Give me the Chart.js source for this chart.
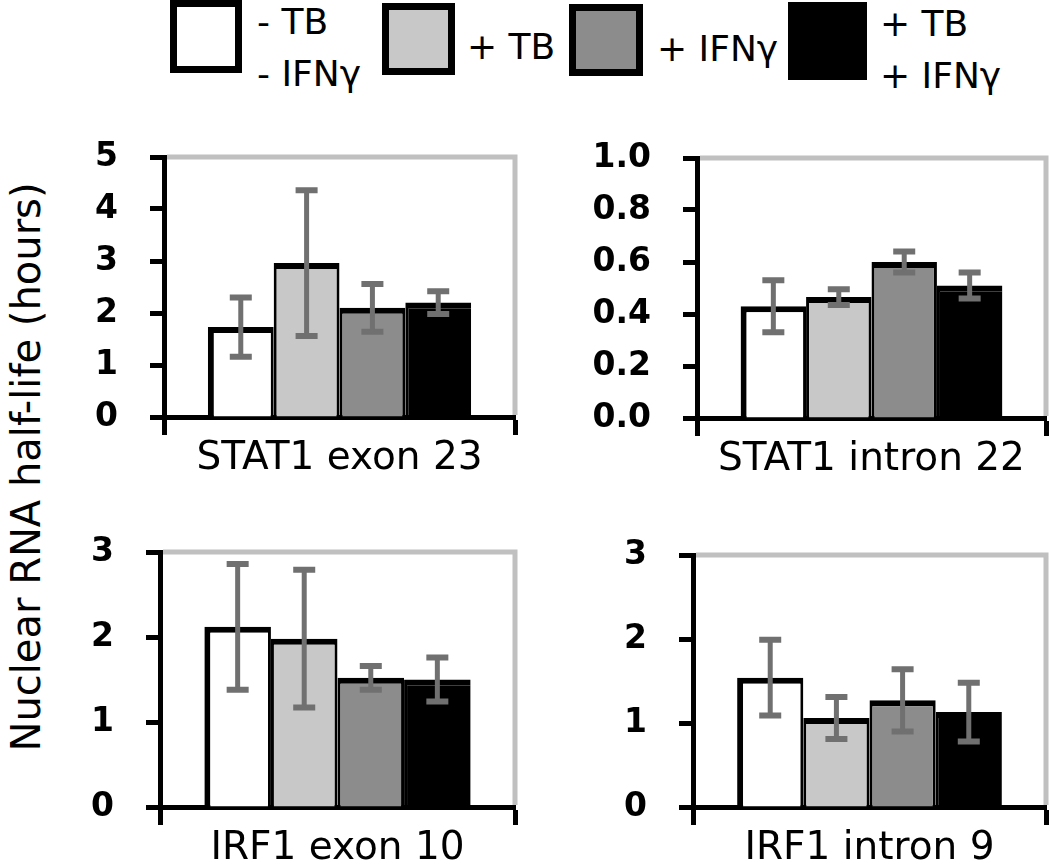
<!DOCTYPE html>
<html>
<head>
<meta charset="utf-8">
<script src="https://cdn.jsdelivr.net/npm/chart.js@4.4.1/dist/chart.umd.min.js"></script>
<style>
  body { margin: 0; width: 1050px; height: 864px; overflow: hidden; background: #fff; position: relative; font-family: 'DejaVu Sans', sans-serif; }
  canvas { position: absolute; }
  .box { position: absolute; box-sizing: border-box; border: 7px solid #000; }
  .lbl { position: absolute; font-size: 36px; line-height: 36px; white-space: nowrap; color: #000; }
  #ytitle { position: absolute; left: 26px; top: 467px; font-size: 40px; line-height: 40px; white-space: nowrap; transform: translate(-50%, -50%) rotate(-90deg); }
</style>
</head>
<body>

<!-- legend -->
<div class="box" style="left:170px;top:0px;width:72px;height:73px;background:#ffffff"></div>
<div class="lbl" style="left:257px;top:4px">- TB</div>
<div class="lbl" style="left:257px;top:56px">- IFNγ</div>
<div class="box" style="left:382px;top:3px;width:73px;height:72px;background:#c8c8c8"></div>
<div class="lbl" style="left:467px;top:29px">+ TB</div>
<div class="box" style="left:569px;top:4px;width:74px;height:72px;background:#8c8c8c"></div>
<div class="lbl" style="left:657px;top:31px">+ IFNγ</div>
<div class="box" style="left:788px;top:2px;width:79px;height:78px;background:#000000"></div>
<div class="lbl" style="left:880px;top:6px">+ TB</div>
<div class="lbl" style="left:880px;top:58px">+ IFNγ</div>

<div id="ytitle">Nuclear RNA half-life (hours)</div>

<canvas id="p1"></canvas>
<canvas id="p2"></canvas>
<canvas id="p3"></canvas>
<canvas id="p4"></canvas>

<script>
var seriesLabels = ['- TB - IFNγ', '+ TB', '+ IFNγ', '+ TB + IFNγ'];
var seriesColors = ['#ffffff', '#c8c8c8', '#8c8c8c', '#000000'];
var panelNames = ['STAT1 exon 23', 'STAT1 intron 22', 'IRF1 exon 10', 'IRF1 intron 9'];

var stat1Exon23 = [1.73, 2.96, 2.1, 2.2];
var stat1Exon23Err = [0.57, 1.4, 0.46, 0.22];
var stat1Intron22 = [0.43, 0.465, 0.6, 0.51];
var stat1Intron22Err = [0.1, 0.03, 0.04, 0.05];
var irf1Exon10 = [2.12, 1.98, 1.52, 1.5];
var irf1Exon10Err = [0.74, 0.81, 0.14, 0.26];
var irf1Intron9 = [1.54, 1.06, 1.27, 1.13];
var irf1Intron9Err = [0.45, 0.25, 0.37, 0.35];

var yMax = [5, 1, 3, 3];
var yStep = [1, 0.2, 1, 1];
var yDecimals = [0, 1, 0, 0];

// neighbouring bars share one black edge, so split it between them
var barBorders = [
    { top: 6, left: 6, right: 3, bottom: 0 },
    { top: 6, left: 3, right: 3, bottom: 0 },
    { top: 6, left: 3, right: 3, bottom: 0 },
    { top: 6, left: 3, right: 0, bottom: 0 }
];

var errorBarPlugin = {
    id: 'errorBars',
    afterDatasetsDraw: function (chart) {
        var ctx = chart.ctx;
        var y = chart.scales.y;
        ctx.save();
        ctx.strokeStyle = '#707070';
        chart.data.datasets.forEach(function (ds, i) {
            chart.getDatasetMeta(i).data.forEach(function (bar, j) {
                var top = y.getPixelForValue(ds.data[j] + ds.errors[j]);
                var bot = y.getPixelForValue(ds.data[j] - ds.errors[j]);
                ctx.lineWidth = 5;
                ctx.beginPath();
                ctx.moveTo(bar.x, top);
                ctx.lineTo(bar.x, bot);
                ctx.stroke();
                ctx.lineWidth = 6;
                ctx.beginPath();
                ctx.moveTo(bar.x - 11, top);
                ctx.lineTo(bar.x + 11, top);
                ctx.moveTo(bar.x - 11, bot);
                ctx.lineTo(bar.x + 11, bot);
                ctx.stroke();
            });
        });
        ctx.restore();
    }
};

// light grey top and right edges of the plot frame
var framePlugin = {
    id: 'frame',
    beforeDatasetsDraw: function (chart) {
        var a = chart.chartArea;
        var ctx = chart.ctx;
        ctx.save();
        ctx.strokeStyle = '#c0c0c0';
        ctx.lineWidth = 5;
        ctx.beginPath();
        ctx.moveTo(a.left + 3, a.top);
        ctx.lineTo(a.right, a.top);
        ctx.lineTo(a.right, a.bottom - 2);
        ctx.stroke();
        ctx.restore();
    }
};

function makePanel(id, name, values, errors, max, step, decimals, box) {
    var padTop = 27, padRight = 4, axisW = 115, axisH = 85;
    var canvas = document.getElementById(id);
    canvas.style.left = (box.l - axisW) + 'px';
    canvas.style.top = (box.t - padTop) + 'px';
    canvas.width = box.r - box.l + axisW + padRight;
    canvas.height = box.b - box.t + padTop + axisH;

    var datasets = seriesLabels.map(function (label, i) {
        return {
            label: label,
            data: [values[i]],
            errors: [errors[i]],
            backgroundColor: seriesColors[i],
            borderColor: '#000',
            borderWidth: barBorders[i],
            borderSkipped: 'start',
            categoryPercentage: 0.75,
            barPercentage: 1
        };
    });

    return new Chart(canvas, {
        type: 'bar',
        data: { labels: [name], datasets: datasets },
        options: {
            responsive: false,
            animation: false,
            devicePixelRatio: 1,
            layout: { padding: { top: padTop, right: padRight, left: 0, bottom: 0 } },
            plugins: { legend: { display: false }, tooltip: { enabled: false } },
            scales: {
                x: {
                    z: 1,
                    offset: true,
                    grid: { drawOnChartArea: false, drawTicks: true, tickLength: 18, tickWidth: 5, tickColor: '#000', offset: true },
                    border: { display: true, color: '#000', width: 5 },
                    ticks: { color: '#000', font: { family: 'DejaVu Sans', size: 39 }, padding: 0, maxRotation: 0, minRotation: 0 },
                    afterFit: function (s) {
                        s.height = axisH;
                        s.paddingLeft = 0;
                        s.paddingRight = 0;
                    }
                },
                y: {
                    z: 1,
                    min: 0,
                    max: max,
                    grid: { drawOnChartArea: false, tickLength: 14, tickWidth: 5, tickColor: '#000' },
                    border: { display: true, color: '#000', width: 5 },
                    ticks: {
                        stepSize: step,
                        color: '#000',
                        font: { family: 'DejaVu Sans', size: 33, weight: 'bold' },
                        padding: 32,
                        callback: function (v) { return Number(v).toFixed(decimals); }
                    },
                    afterFit: function (s) {
                        // keep the plot box where it is; labels may overhang the padding
                        s.width = axisW;
                        s.paddingTop = 0;
                        s.paddingBottom = 0;
                    }
                }
            }
        },
        plugins: [framePlugin, errorBarPlugin]
    });
}

makePanel('p1', panelNames[0], stat1Exon23, stat1Exon23Err, yMax[0], yStep[0], yDecimals[0], { l: 164, t: 157, r: 515, b: 417 });
makePanel('p2', panelNames[1], stat1Intron22, stat1Intron22Err, yMax[1], yStep[1], yDecimals[1], { l: 697, t: 158, r: 1046, b: 418 });
makePanel('p3', panelNames[2], irf1Exon10, irf1Exon10Err, yMax[2], yStep[2], yDecimals[2], { l: 160, t: 552, r: 515, b: 807 });
makePanel('p4', panelNames[3], irf1Intron9, irf1Intron9Err, yMax[3], yStep[3], yDecimals[3], { l: 693, t: 555, r: 1046, b: 807 });
</script>
</body>
</html>
